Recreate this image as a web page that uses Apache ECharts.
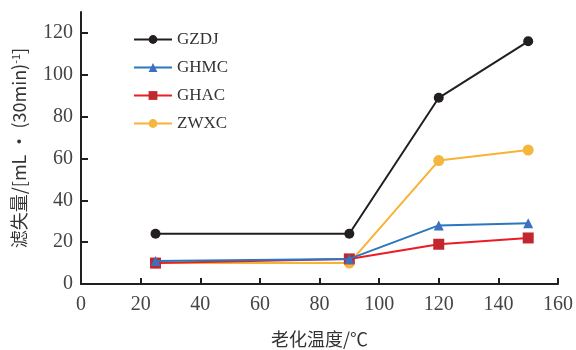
<!DOCTYPE html>
<html><head><meta charset="utf-8">
<script src="https://cdn.jsdelivr.net/npm/echarts@6/dist/echarts.min.js"></script>
<style>html,body{margin:0;padding:0;background:#fff}#c{width:576px;height:350px}</style>
</head><body><div id="c"></div>
<script>
const temps = [25, 90, 120, 150];
const seriesNames = ['GZDJ', 'GHMC', 'GHAC', 'ZWXC'];
const GZDJ = [24, 24, 89, 116];
const GHMC = [11, 12, 28, 29];
const GHAC = [10, 12, 19, 22];
const ZWXC = [10, 10, 59, 64];
const yTicks = [0, 20, 40, 60, 80, 100, 120];
const xTicks = [0, 20, 40, 60, 80, 100, 120, 140, 160];

const numFont = '"Liberation Serif","DejaVu Serif",serif';
const cjkFont = '"Noto Sans CJK SC","Liberation Serif",serif';
const styles = [
  {line:'#231f20', mark:'#231f20', sym:'circle', size:10},
  {line:'#2a77c0', mark:'#3f6fbf', sym:'triangle', size:10},
  {line:'#ec1c24', mark:'#c1272d', sym:'rect', size:11},
  {line:'#f9b233', mark:'#f4b63c', sym:'circle', size:11}
];
const vals = [GZDJ, GHMC, GHAC, ZWXC];
const series = seriesNames.map((n, i) => ({
  name: n, type: 'line',
  data: temps.map((t, j) => [t, vals[i][j]]),
  symbol: styles[i].sym, symbolSize: styles[i].size,
  lineStyle: {color: styles[i].line, width: 2},
  itemStyle: {color: styles[i].mark},
  z: 10 - i
}));

const chart = echarts.init(document.getElementById('c'));
chart.setOption({
  animation: false,
  grid: {left: 81, right: 18, top: 12, bottom: 66, containLabel: false, outerBoundsMode: 'none'},
  legend: {
    left: 128, top: 26, orient: 'vertical',
    itemWidth: 38, itemHeight: 11, itemGap: 11,
    data: seriesNames,
    textStyle: {fontFamily: numFont, fontSize: 17, color: '#333'}
  },
  xAxis: {
    type: 'value', min: 0, max: 160, interval: 20,
    name: '老化温度/℃', nameLocation: 'middle', nameGap: 46,
    nameTextStyle: {fontFamily: cjkFont, fontSize: 18, color: '#333'},
    axisLine: {lineStyle: {color: '#231f20', width: 2}},
    axisTick: {inside: true, length: 6, lineStyle: {color: '#231f20', width: 2}},
    axisLabel: {fontFamily: numFont, fontSize: 20, color: '#444', margin: 11,
      customValues: xTicks},
    splitLine: {show: false}
  },
  yAxis: {
    type: 'value', min: 0, max: 130, interval: 20,
    name: '滤失量/[mL • (30min){sup|-1}]', nameLocation: 'middle', nameGap: 52,
    nameTextStyle: {fontFamily: cjkFont, fontSize: 18, color: '#333',
      rich: {sup: {fontFamily: cjkFont, fontSize: 11, verticalAlign: 'top', padding: [0,0,8,0], color:'#333'}}},
    axisLine: {lineStyle: {color: '#231f20', width: 2}},
    axisTick: {inside: true, length: 7, lineStyle: {color: '#231f20', width: 2}, customValues: yTicks},
    axisLabel: {fontFamily: numFont, fontSize: 20, color: '#444', margin: 8, customValues: yTicks},
    splitLine: {show: false}
  },
  series: series
});
</script></body></html>
